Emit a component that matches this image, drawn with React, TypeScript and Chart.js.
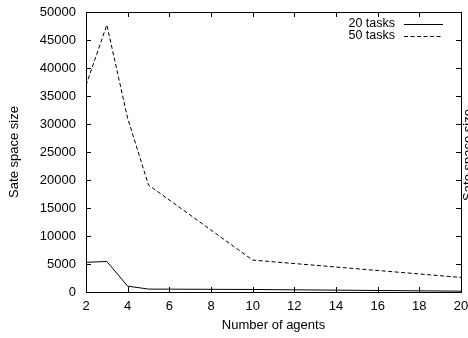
import React, { useEffect, useRef } from 'react';
import { Chart, registerables } from 'chart.js';

Chart.register(...registerables);

// ---- data ----
const agents = [2, 3, 4, 5, 10, 20];
const tasks20 = [5300, 5450, 1050, 520, 450, 150];
const tasks50 = [36900, 47700, 31000, 19100, 5700, 2600];
const seriesLabels = ['20 tasks', '50 tasks'];
const xMin = 2;
const xMax = 20;
const xStep = 2;
const yMin = 0;
const yMax = 50000;
const yStep = 5000;
const xTitle = 'Number of agents';
const yTitle = 'Sate space size';

const FONT = 'Liberation Sans, Arial, Helvetica, sans-serif';
const DASH = [4, 2.5];

const framePlugin = {
  id: 'gnuplotFrame',
  afterDraw(chart: any) {
    const ctx = chart.ctx;
    const { left, right, top, bottom } = chart.chartArea;
    const xs = chart.scales.x;
    const ys = chart.scales.y;
    const tl = 5;
    ctx.save();
    ctx.strokeStyle = '#000';
    ctx.lineWidth = 1;
    ctx.setLineDash([]);
    // border
    ctx.strokeRect(Math.round(left) + 0.5, Math.round(top) + 0.5, Math.round(right - left), Math.round(bottom - top));
    // inward ticks
    ctx.beginPath();
    xs.ticks.forEach((t: any) => {
      const px = Math.round(xs.getPixelForValue(t.value)) + 0.5;
      ctx.moveTo(px, bottom);
      ctx.lineTo(px, bottom - tl);
      ctx.moveTo(px, top);
      ctx.lineTo(px, top + tl);
    });
    ys.ticks.forEach((t: any) => {
      const py = Math.round(ys.getPixelForValue(t.value)) + 0.5;
      ctx.moveTo(left, py);
      ctx.lineTo(left + tl, py);
      ctx.moveTo(right, py);
      ctx.lineTo(right - tl, py);
    });
    ctx.stroke();

    // legend
    ctx.font = `12.5px ${FONT}`;
    ctx.fillStyle = '#000';
    ctx.textAlign = 'right';
    ctx.textBaseline = 'middle';
    const rows = [24, 36];
    seriesLabels.forEach((lab, i) => {
      const y = rows[i];
      ctx.fillText(lab, 395, y);
      ctx.beginPath();
      ctx.setLineDash(i === 0 ? [] : DASH);
      ctx.moveTo(404, y + 0.5);
      ctx.lineTo(443, y + 0.5);
      ctx.stroke();
    });
    ctx.setLineDash([]);

    // clipped right-hand axis title
    ctx.save();
    ctx.translate(462, 155);
    ctx.rotate(-Math.PI / 2);
    ctx.textAlign = 'center';
    ctx.textBaseline = 'top';
    ctx.font = `13px ${FONT}`;
    ctx.fillText(yTitle, 0, 0);
    ctx.restore();

    ctx.restore();
  },
};

export default function App() {
  const ref = useRef<HTMLCanvasElement | null>(null);

  useEffect(() => {
    document.body.style.margin = '0';
    const canvas = ref.current;
    if (!canvas) return;
    const chart = new Chart(canvas, {
      type: 'line',
      data: {
        datasets: [
          {
            label: seriesLabels[0],
            data: agents.map((a, i) => ({ x: a, y: tasks20[i] })),
            borderColor: '#000',
            borderWidth: 1,
            pointRadius: 0,
            tension: 0,
            fill: false,
          },
          {
            label: seriesLabels[1],
            data: agents.map((a, i) => ({ x: a, y: tasks50[i] })),
            borderColor: '#000',
            borderWidth: 1,
            borderDash: DASH,
            pointRadius: 0,
            tension: 0,
            fill: false,
          },
        ],
      },
      options: {
        animation: false,
        responsive: false,
        maintainAspectRatio: false,
        layout: { padding: { top: 12, right: 7, left: 0, bottom: 0 } },
        plugins: {
          legend: { display: false },
          tooltip: { enabled: false },
        },
        scales: {
          x: {
            type: 'linear',
            min: xMin,
            max: xMax,
            grid: { display: false, drawTicks: false },
            border: { display: false },
            ticks: {
              stepSize: xStep,
              padding: 7,
              color: '#000',
              maxRotation: 0,
              autoSkip: false,
              font: { family: FONT, size: 13 },
            },
            title: {
              display: true,
              text: xTitle,
              color: '#000',
              font: { family: FONT, size: 13 },
              padding: { top: 0, bottom: 5 },
            },
            afterFit: (s: any) => {
              s.height = 46;
              s.paddingLeft = 0;
              s.paddingRight = 0;
            },
          },
          y: {
            min: yMin,
            max: yMax,
            grid: { display: false, drawTicks: false },
            border: { display: false },
            ticks: {
              stepSize: yStep,
              padding: 10,
              color: '#000',
              autoSkip: false,
              font: { family: FONT, size: 13 },
              callback: (v: any) => String(v),
            },
            title: {
              display: true,
              text: yTitle,
              color: '#000',
              font: { family: FONT, size: 13 },
              padding: { top: 7, bottom: 0 },
            },
            afterFit: (s: any) => {
              s.width = 86;
              s.paddingTop = 0;
              s.paddingBottom = 0;
            },
          },
        },
      },
      plugins: [framePlugin],
    });
    return () => chart.destroy();
  }, []);

  return (
    <div style={{ position: 'absolute', left: 0, top: 0, width: 468, height: 338, background: '#fff' }}>
      <canvas ref={ref} width={468} height={338} style={{ width: 468, height: 338, display: 'block' }} />
    </div>
  );
}
